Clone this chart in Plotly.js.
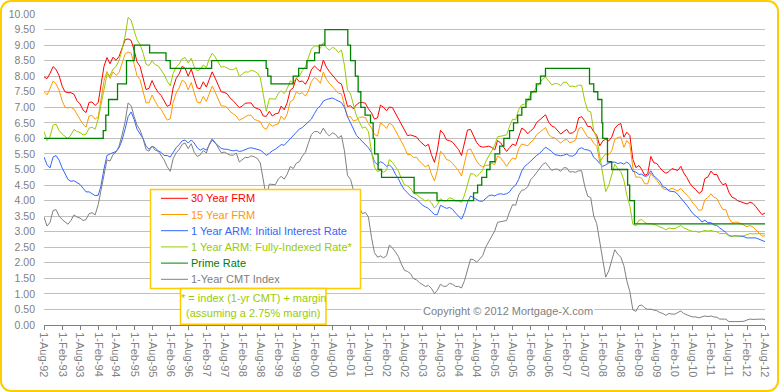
<!DOCTYPE html>
<html>
<head>
<meta charset="utf-8">
<script src="https://cdn.plot.ly/plotly-3.0.1.min.js"></script>
<style>
  html, body { margin: 0; padding: 0; background: #ffffff; }
  #wrap { position: relative; width: 779px; height: 392px; }
  #chart { position: absolute; left: 0; top: 0; width: 779px; height: 392px; }
  #frame { position: absolute; left: 0; top: 0; width: 775px; height: 388px;
           border: 2px solid #FFCC00; border-radius: 11px; pointer-events: none; }
</style>
</head>
<body>
<div id="wrap"><div id="chart"></div><div id="frame"></div></div>
<script>
// Monthly series, Aug-1992 .. Aug-2012 (241 months)
const startYear = 1992, startMonth = 8, monthCount = 241;

const frm30 = [
  7.98, 7.92, 8.09, 8.31, 8.22,
  8.02, 7.68, 7.50, 7.47, 7.47, 7.42, 7.21, 7.11, 6.91, 6.83, 7.16, 7.17,
  7.06, 7.15, 7.68, 8.32, 8.60, 8.40, 8.61, 8.51, 8.64, 8.93, 9.17, 9.20,
  9.15, 8.83, 8.46, 8.32, 7.96, 7.57, 7.61, 7.86, 7.64, 7.48, 7.38, 7.20,
  7.03, 7.08, 7.62, 7.93, 8.07, 8.32, 8.25, 8.00, 8.23, 7.92, 7.62, 7.60,
  7.82, 7.65, 7.90, 8.14, 7.94, 7.69, 7.50, 7.48, 7.43, 7.29, 7.21, 7.10,
  6.99, 7.04, 7.13, 7.14, 7.14, 7.00, 6.95, 6.92, 6.72, 6.71, 6.87, 6.72,
  6.79, 6.81, 7.04, 6.92, 7.15, 7.55, 7.63, 7.94, 7.82, 7.85, 7.74, 7.91,
  8.21, 8.33, 8.24, 8.15, 8.52, 8.29, 8.15, 8.03, 7.91, 7.80, 7.75, 7.38,
  7.03, 7.05, 6.95, 7.08, 7.15, 7.16, 7.13, 6.95, 6.82, 6.62, 6.66, 7.07,
  7.00, 6.89, 7.01, 6.99, 6.81, 6.65, 6.49, 6.29, 6.09, 6.11, 6.07, 6.05,
  5.92, 5.84, 5.75, 5.81, 5.48, 5.23, 5.63, 6.26, 6.15, 5.95, 5.93, 5.88,
  5.74, 5.64, 5.45, 5.83, 6.27, 6.29, 6.06, 5.87, 5.75, 5.72, 5.73, 5.75,
  5.71, 5.63, 5.93, 5.86, 5.72, 5.58, 5.70, 5.82, 5.77, 6.07, 6.33, 6.27,
  6.15, 6.25, 6.32, 6.51, 6.60, 6.68, 6.76, 6.52, 6.40, 6.36, 6.24, 6.14,
  6.22, 6.29, 6.16, 6.18, 6.26, 6.66, 6.70, 6.57, 6.38, 6.38, 6.21, 6.10,
  5.76, 5.92, 5.97, 5.92, 6.04, 6.32, 6.43, 6.48, 6.04, 6.20, 6.09, 5.33,
  5.06, 5.13, 5.00, 4.81, 4.86, 5.42, 5.22, 5.19, 5.06, 4.95, 4.88, 4.93,
  5.03, 4.99, 4.97, 5.10, 4.89, 4.74, 4.56, 4.43, 4.35, 4.23, 4.30, 4.71,
  4.76, 4.95, 4.84, 4.84, 4.64, 4.51, 4.55, 4.27, 4.11, 4.07, 3.99, 3.96,
  3.92, 3.89, 3.95, 3.91, 3.80, 3.68, 3.55, 3.60
];

const frm15 = [
  7.50, 7.40, 7.60, 7.85, 7.75,
  7.55, 7.21, 7.01, 6.98, 7.00, 6.94, 6.78, 6.66, 6.45, 6.36, 6.72, 6.74,
  6.62, 6.69, 7.23, 7.85, 8.15, 7.93, 8.14, 8.03, 8.12, 8.42, 8.72, 8.78,
  8.74, 8.38, 8.02, 7.89, 7.54, 7.14, 7.15, 7.40, 7.19, 7.03, 6.93, 6.76,
  6.59, 6.63, 7.15, 7.46, 7.62, 7.87, 7.81, 7.56, 7.80, 7.47, 7.16, 7.14,
  7.35, 7.19, 7.44, 7.68, 7.49, 7.24, 7.05, 7.04, 6.99, 6.86, 6.79, 6.72,
  6.58, 6.64, 6.71, 6.75, 6.74, 6.61, 6.58, 6.54, 6.35, 6.29, 6.48, 6.39,
  6.44, 6.47, 6.72, 6.60, 6.79, 7.18, 7.24, 7.50, 7.43, 7.47, 7.36, 7.52,
  7.83, 7.96, 7.90, 7.77, 8.14, 7.90, 7.77, 7.66, 7.55, 7.45, 7.43, 7.06,
  6.69, 6.70, 6.56, 6.59, 6.67, 6.69, 6.67, 6.48, 6.33, 6.13, 6.07, 6.50,
  6.43, 6.32, 6.49, 6.43, 6.27, 6.09, 5.90, 5.71, 5.48, 5.48, 5.38, 5.40,
  5.26, 5.18, 5.08, 5.15, 4.85, 4.63, 4.97, 5.59, 5.49, 5.32, 5.29, 5.20,
  5.07, 4.96, 4.79, 5.19, 5.63, 5.66, 5.47, 5.27, 5.14, 5.09, 5.13, 5.14,
  5.19, 5.16, 5.43, 5.38, 5.25, 5.10, 5.25, 5.37, 5.33, 5.66, 5.82, 5.79,
  5.76, 5.88, 5.95, 6.12, 6.19, 6.29, 6.35, 6.13, 6.04, 6.02, 5.93, 5.85,
  5.94, 5.97, 5.86, 5.89, 5.95, 6.31, 6.36, 6.21, 6.04, 6.01, 5.84, 5.76,
  5.23, 5.40, 5.50, 5.48, 5.60, 5.97, 6.03, 6.05, 5.71, 5.93, 5.81, 5.06,
  4.75, 4.76, 4.72, 4.54, 4.54, 4.89, 4.75, 4.65, 4.52, 4.39, 4.35, 4.35,
  4.40, 4.36, 4.31, 4.39, 4.27, 4.17, 4.08, 3.92, 3.82, 3.68, 3.71, 4.03,
  4.10, 4.22, 4.11, 4.07, 3.88, 3.71, 3.71, 3.44, 3.29, 3.31, 3.30, 3.26,
  3.20, 3.16, 3.20, 3.15, 3.06, 2.97, 2.86, 2.87
];

const armInitial = [
  5.40, 5.15, 5.05, 5.40, 5.45,
  5.30, 5.05, 4.85, 4.68, 4.62, 4.64, 4.58, 4.52, 4.40, 4.28, 4.28, 4.21,
  4.16, 4.17, 4.47, 5.02, 5.45, 5.50, 5.55, 5.58, 5.70, 5.95, 6.30, 6.70,
  6.85, 6.60, 6.30, 6.15, 6.00, 5.75, 5.65, 5.75, 5.70, 5.60, 5.55, 5.45,
  5.45, 5.40, 5.55, 5.70, 5.80, 5.92, 5.95, 5.85, 5.95, 5.85, 5.70, 5.62,
  5.68, 5.62, 5.78, 5.95, 5.85, 5.75, 5.68, 5.65, 5.65, 5.62, 5.60, 5.62,
  5.58, 5.60, 5.65, 5.68, 5.70, 5.68, 5.66, 5.62, 5.55, 5.45, 5.52, 5.60,
  5.65, 5.72, 5.80, 5.78, 5.88, 6.00, 6.08, 6.20, 6.30, 6.35, 6.45, 6.55,
  6.62, 6.80, 6.95, 7.05, 7.20, 7.25, 7.28, 7.30, 7.25, 7.20, 7.15, 7.00,
  6.70, 6.50, 6.30, 6.10, 6.00, 5.90, 5.80, 5.70, 5.55, 5.25, 5.15, 5.25,
  5.20, 5.10, 5.15, 5.05, 4.85, 4.70, 4.50, 4.35, 4.25, 4.15, 4.10, 4.05,
  3.95, 3.85, 3.80, 3.75, 3.65, 3.55, 3.55, 3.85, 3.80, 3.75, 3.78, 3.72,
  3.60, 3.50, 3.40, 3.62, 3.95, 4.15, 4.10, 4.05, 3.98, 3.98, 4.08, 4.15,
  4.18, 4.15, 4.20, 4.22, 4.20, 4.22, 4.28, 4.42, 4.50, 4.68, 4.95, 5.10,
  5.18, 5.28, 5.35, 5.45, 5.52, 5.62, 5.72, 5.65, 5.58, 5.48, 5.46, 5.44,
  5.46, 5.50, 5.44, 5.43, 5.49, 5.66, 5.70, 5.64, 5.63, 5.59, 5.39, 5.31,
  5.19, 5.10, 5.15, 5.21, 5.23, 5.24, 5.19, 5.22, 5.17, 5.24, 5.16, 4.94,
  4.92, 4.84, 4.85, 4.78, 4.80, 4.96, 4.80, 4.71, 4.62, 4.45, 4.41, 4.31,
  4.30, 4.28, 4.20, 4.09, 3.95, 3.85, 3.72, 3.58, 3.50, 3.43, 3.31, 3.37,
  3.29, 3.29, 3.22, 3.20, 3.12, 3.05, 2.98, 2.88, 2.85, 2.87, 2.86, 2.85,
  2.84, 2.80, 2.79, 2.80, 2.80, 2.76, 2.71, 2.68
];

const armFullyIndexed = [
  6.22, 5.93, 6.05, 6.43, 6.46,
  6.25, 6.14, 6.08, 5.99, 6.11, 6.29, 6.22, 6.19, 6.11, 6.14, 6.33, 6.36,
  6.29, 6.62, 7.07, 7.57, 8.06, 8.02, 8.23, 8.31, 8.51, 8.86, 9.29, 9.89,
  9.80, 9.45, 9.18, 9.02, 8.75, 8.39, 8.34, 8.50, 8.37, 8.34, 8.18, 8.06,
  7.84, 7.69, 8.09, 8.29, 8.39, 8.56, 8.60, 8.42, 8.58, 8.30, 8.17, 8.22,
  8.36, 8.28, 8.55, 8.74, 8.62, 8.44, 8.29, 8.31, 8.27, 8.21, 8.21, 8.28,
  7.99, 8.06, 8.14, 8.13, 8.19, 8.16, 8.11, 7.96, 7.46, 6.87, 7.28, 7.27,
  7.26, 7.45, 7.53, 7.44, 7.60, 7.85, 7.78, 7.95, 8.00, 8.18, 8.30, 8.59,
  8.87, 8.97, 8.97, 8.90, 9.08, 8.92, 8.83, 8.93, 8.88, 8.76, 8.84, 8.35,
  7.56, 7.43, 7.05, 6.73, 6.53, 6.33, 6.37, 6.22, 5.57, 5.08, 4.93, 4.97,
  4.91, 4.98, 5.32, 5.23, 5.10, 4.95, 4.71, 4.51, 4.47, 4.40, 4.24, 4.20,
  4.11, 4.05, 3.99, 4.02, 3.93, 3.76, 3.87, 4.06, 3.99, 4.00, 4.09, 4.06,
  3.99, 3.99, 3.94, 4.18, 4.53, 4.87, 4.85, 4.77, 4.87, 4.98, 5.25, 5.42,
  5.61, 5.78, 6.05, 6.07, 6.08, 6.11, 6.39, 6.62, 6.60, 6.93, 7.08, 7.10,
  7.20, 7.43, 7.52, 7.65, 7.75, 7.91, 7.97, 7.83, 7.72, 7.76, 7.76, 7.69,
  7.81, 7.80, 7.67, 7.68, 7.66, 7.71, 7.71, 7.22, 6.89, 6.85, 6.25, 6.01,
  5.46, 4.80, 4.29, 4.49, 4.81, 5.17, 5.03, 4.93, 4.66, 4.17, 3.82, 3.24,
  3.19, 3.37, 3.39, 3.30, 3.25, 3.26, 3.23, 3.21, 3.15, 3.12, 3.06, 3.12,
  3.10, 3.10, 3.15, 3.20, 3.12, 3.07, 3.04, 3.01, 3.01, 2.98, 3.00, 3.04,
  3.02, 3.04, 3.01, 3.00, 2.94, 2.93, 2.94, 2.86, 2.85, 2.86, 2.86, 2.87,
  2.87, 2.91, 2.94, 2.93, 2.94, 2.94, 2.94, 2.93
];

const cmt1yr = [
  3.47, 3.18, 3.30, 3.68, 3.71,
  3.50, 3.39, 3.33, 3.24, 3.36, 3.54, 3.47, 3.44, 3.36, 3.39, 3.58, 3.61,
  3.54, 3.87, 4.32, 4.82, 5.31, 5.27, 5.48, 5.56, 5.76, 6.11, 6.54, 7.14,
  7.05, 6.70, 6.43, 6.27, 6.00, 5.64, 5.59, 5.75, 5.62, 5.59, 5.43, 5.31,
  5.09, 4.94, 5.34, 5.54, 5.64, 5.81, 5.85, 5.67, 5.83, 5.55, 5.42, 5.47,
  5.61, 5.53, 5.80, 5.99, 5.87, 5.69, 5.54, 5.56, 5.52, 5.46, 5.46, 5.53,
  5.24, 5.31, 5.39, 5.38, 5.44, 5.41, 5.36, 5.21, 4.71, 4.12, 4.53, 4.52,
  4.51, 4.70, 4.78, 4.69, 4.85, 5.10, 5.03, 5.20, 5.25, 5.43, 5.55, 5.84,
  6.12, 6.22, 6.22, 6.15, 6.33, 6.17, 6.08, 6.18, 6.13, 6.01, 6.09, 5.60,
  4.81, 4.68, 4.30, 3.98, 3.78, 3.58, 3.62, 3.47, 2.82, 2.33, 2.18, 2.22,
  2.16, 2.23, 2.57, 2.48, 2.35, 2.20, 1.96, 1.76, 1.72, 1.65, 1.49, 1.45,
  1.36, 1.30, 1.24, 1.27, 1.18, 1.01, 1.12, 1.31, 1.24, 1.25, 1.34, 1.31,
  1.24, 1.24, 1.19, 1.43, 1.78, 2.12, 2.10, 2.02, 2.12, 2.23, 2.50, 2.67,
  2.86, 3.03, 3.30, 3.32, 3.33, 3.36, 3.64, 3.87, 3.85, 4.18, 4.33, 4.35,
  4.45, 4.68, 4.77, 4.90, 5.00, 5.16, 5.22, 5.08, 4.97, 5.01, 5.01, 4.94,
  5.06, 5.05, 4.92, 4.93, 4.91, 4.96, 4.96, 4.47, 4.14, 4.10, 3.50, 3.26,
  2.71, 2.05, 1.54, 1.74, 2.06, 2.42, 2.28, 2.18, 1.91, 1.42, 1.07, 0.49,
  0.44, 0.62, 0.64, 0.55, 0.50, 0.51, 0.48, 0.46, 0.40, 0.37, 0.31, 0.37,
  0.35, 0.35, 0.40, 0.45, 0.37, 0.32, 0.29, 0.26, 0.26, 0.23, 0.25, 0.29,
  0.27, 0.29, 0.26, 0.25, 0.19, 0.18, 0.19, 0.11, 0.10, 0.11, 0.11, 0.12,
  0.12, 0.16, 0.19, 0.18, 0.19, 0.19, 0.19, 0.18
];

// Prime rate: change dates and new rate
const primeDates = [
  "1992-08-01","1994-03-24","1994-04-19","1994-05-17","1994-08-16","1994-11-15",
  "1995-02-01","1995-07-07","1995-12-20","1996-02-01","1997-03-26","1998-09-30",
  "1998-10-16","1998-11-18","1999-07-01","1999-08-25","1999-11-17","2000-02-03",
  "2000-03-22","2000-05-17","2001-01-04","2001-02-01","2001-03-21","2001-04-19",
  "2001-05-16","2001-06-28","2001-08-22","2001-09-18","2001-10-03","2001-11-07",
  "2001-12-12","2002-11-07","2003-06-27","2004-07-01","2004-08-11","2004-09-22",
  "2004-11-11","2004-12-15","2005-02-03","2005-03-23","2005-05-04","2005-07-01",
  "2005-08-10","2005-09-21","2005-11-02","2005-12-14","2006-02-01","2006-03-29",
  "2006-05-11","2006-06-30","2007-09-19","2007-11-01","2007-12-12","2008-01-22",
  "2008-01-31","2008-03-19","2008-05-01","2008-10-09","2008-10-30","2008-12-17",
  "2012-08-01"
];
const primeRates = [
  6.00, 6.25, 6.75, 7.25, 7.75, 8.50,
  9.00, 8.75, 8.50, 8.25, 8.50, 8.25,
  8.00, 7.75, 8.00, 8.25, 8.50, 8.75,
  9.00, 9.50, 9.00, 8.50, 8.00, 7.50,
  7.00, 6.75, 6.50, 6.00, 5.50, 5.00,
  4.75, 4.25, 4.00, 4.25, 4.50, 4.75,
  5.00, 5.25, 5.50, 5.75, 6.00, 6.25,
  6.50, 6.75, 7.00, 7.25, 7.50, 7.75,
  8.00, 8.25, 7.75, 7.50, 7.25, 6.50,
  6.00, 5.25, 5.00, 4.50, 4.00, 3.25,
  3.25
];

const seriesNames = ["30 Year FRM", "15 Year FRM", "1 Year ARM: Initial Interest Rate",
  "1 Year ARM: Fully-Indexed Rate*", "Prime Rate", "1-Year CMT Index"];
const seriesColors = ["#FF0000", "#FF9900", "#3366FF", "#99CC00", "#008000", "#808080"];

const months = [];
for (let i = 0; i < monthCount; i++) {
  const m = startMonth - 1 + i;
  const y = startYear + Math.floor(m / 12);
  const mm = (m % 12) + 1;
  months.push(y + "-" + (mm < 10 ? "0" + mm : mm) + "-01");
}

const monthly = [frm30, frm15, armInitial, armFullyIndexed, null, cmt1yr];
const traces = [];
for (let k = 0; k < 6; k++) {
  if (k === 4) {
    traces.push({ type: "scatter", mode: "lines", x: primeDates, y: primeRates,
      line: { color: seriesColors[k], width: 1.3, shape: "hv" }, name: seriesNames[k],
      showlegend: false, hoverinfo: "skip" });
  } else {
    traces.push({ type: "scatter", mode: "lines", x: months, y: monthly[k],
      line: { color: seriesColors[k], width: 1 }, name: seriesNames[k],
      showlegend: false, hoverinfo: "skip" });
  }
}

// geometry helpers (pixel -> paper) for the plot area
const W = 779, H = 392, mL = 44, mR = 14, mT = 14, mB = 67;
const pw = W - mL - mR, ph = H - mT - mB;
const px = v => (v - mL) / pw;
const py = v => (H - mB - v) / ph;

const FONT = "Liberation Sans, Arial, sans-serif";
const shapes = [], annotations = [];
// legend box
shapes.push({ type: "rect", xref: "paper", yref: "paper", layer: "above",
  x0: px(150.5), x1: px(360.5), y0: py(288.5), y1: py(189.5),
  line: { color: "#FFCC00", width: 1.5 }, fillcolor: "#FFFFFF" });
// note box
shapes.push({ type: "rect", xref: "paper", yref: "paper", layer: "above",
  x0: px(180.5), x1: px(326), y0: py(324.3), y1: py(288.5),
  line: { color: "#FFCC00", width: 1.5 }, fillcolor: "#FFFFFF" });
for (let k = 0; k < 6; k++) {
  const yy = 198.3 + k * 16.2;
  shapes.push({ type: "line", xref: "paper", yref: "paper", layer: "above",
    x0: px(161), x1: px(188), y0: py(yy), y1: py(yy),
    line: { color: seriesColors[k], width: 1 } });
  annotations.push({ xref: "paper", yref: "paper", x: px(188.5), y: py(yy),
    xanchor: "left", yanchor: "middle", showarrow: false, text: seriesNames[k],
    font: { family: FONT, size: 11, color: seriesColors[k] } });
}
annotations.push({ xref: "paper", yref: "paper", x: px(253.3), y: py(297.5),
  xanchor: "center", yanchor: "middle", showarrow: false,
  text: "* = index (1-yr CMT) + margin",
  font: { family: FONT, size: 11, color: "#99CC00" } });
annotations.push({ xref: "paper", yref: "paper", x: px(253.3), y: py(312.5),
  xanchor: "center", yanchor: "middle", showarrow: false,
  text: "(assuming a 2.75% margin)",
  font: { family: FONT, size: 11, color: "#99CC00" } });
annotations.push({ xref: "paper", yref: "paper", x: px(420.5), y: py(311),
  xanchor: "left", yanchor: "middle", showarrow: false, bgcolor: "#FFFFFF",
  text: "Copyright \u00A9 2012 Mortgage-X.com",
  font: { family: FONT, size: 11, color: "#808080" } });

const layout = {
  width: W, height: H,
  margin: { l: mL, r: mR, t: mT, b: mB, pad: 0 },
  paper_bgcolor: "#FFFFFF", plot_bgcolor: "#FFFFFF",
  showlegend: false,
  font: { family: FONT, size: 11, color: "#808080" },
  xaxis: {
    type: "date", range: ["1992-08-01", "2012-08-01"],
    tick0: "1992-08-01", dtick: "M6", tickformat: "%-d-%b-%y",
    tickangle: 90, ticks: "outside", ticklen: 4, tickcolor: "#808080", tickwidth: 1,
    showline: true, linecolor: "#808080", linewidth: 1,
    showgrid: false, zeroline: false,
    tickfont: { family: FONT, size: 11, color: "#808080" }
  },
  yaxis: {
    range: [0, 10], dtick: 0.5, tick0: 0, tickformat: ".2f",
    showgrid: true, gridcolor: "#C0C0C0", gridwidth: 1,
    showline: false, zeroline: false, ticks: "",
    ticklabelstandoff: 8,
    tickfont: { family: FONT, size: 10.5, color: "#808080" }
  },
  shapes: shapes,
  annotations: annotations
};

Plotly.newPlot("chart", traces, layout, { displayModeBar: false, staticPlot: true });
</script>
</body>
</html>
